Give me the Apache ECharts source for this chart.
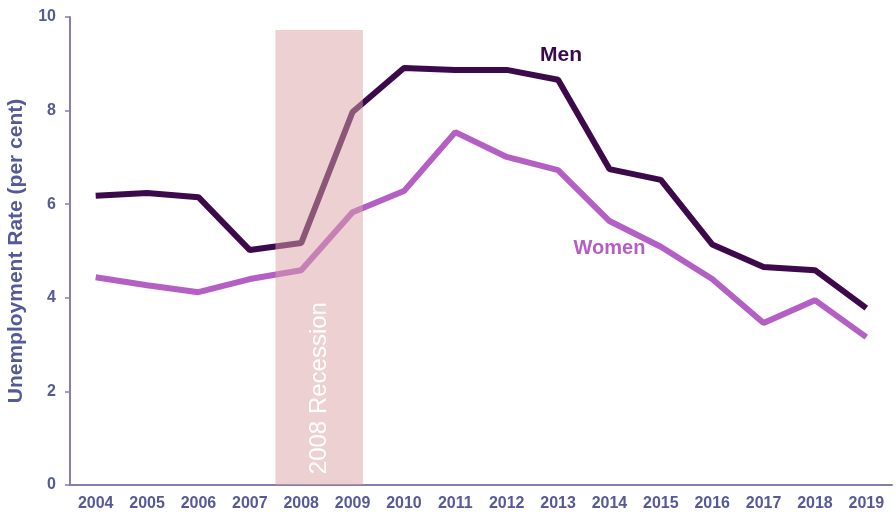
<!DOCTYPE html>
<html>
<head>
<meta charset="utf-8">
<script src="https://cdn.jsdelivr.net/npm/echarts@6/dist/echarts.min.js"></script>
<style>
  html, body { margin: 0; padding: 0; background: #fff; }
  #chart { width: 896px; height: 514px; }
</style>
</head>
<body>
<div id="chart"></div>
<script>
var years = ['2004', '2005', '2006', '2007', '2008', '2009', '2010', '2011',
             '2012', '2013', '2014', '2015', '2016', '2017', '2018', '2019'];
var men = [6.18, 6.24, 6.15, 5.02, 5.17, 7.97, 8.91, 8.87,
           8.87, 8.66, 6.75, 6.52, 5.14, 4.66, 4.59, 3.78];
var women = [4.44, 4.27, 4.12, 4.40, 4.59, 5.83, 6.28, 7.54,
             7.01, 6.73, 5.64, 5.09, 4.40, 3.46, 3.95, 3.16];
// recession band: [start, end, top] in category-index units
var recession = [[3.5, 5.2, 9.72]];

var axisColor = '#8a7cab';
var labelColor = '#55599a';

var chart = echarts.init(document.getElementById('chart'));

var option = {
    animation: false,
    grid: { left: 70, right: 4, top: 17, bottom: 29, containLabel: false, outerBoundsMode: 'none' },
    xAxis: [{
        type: 'category',
        data: years,
        boundaryGap: true,
        axisLine: { onZero: false, lineStyle: { color: axisColor, width: 2 } },
        axisTick: { lineStyle: { color: axisColor, width: 1.5 }, length: 5 },
        axisLabel: { color: labelColor, fontWeight: 'bold', fontSize: 16, margin: 11, fontFamily: 'Liberation Sans' }
    }, {
        type: 'value',
        min: -0.5,
        max: 15.5,
        show: false
    }],
    yAxis: {
        type: 'value',
        min: 0,
        max: 10,
        interval: 2,
        name: 'Unemployment Rate (per cent)',
        nameLocation: 'middle',
        nameGap: 43,
        nameTextStyle: { color: labelColor, fontWeight: 'bold', fontSize: 21, fontFamily: 'Liberation Sans' },
        splitLine: { show: false },
        axisLine: { show: true, onZero: false, lineStyle: { color: axisColor, width: 2 } },
        axisTick: { show: true, length: 5, lineStyle: { color: axisColor, width: 1.5 } },
        axisLabel: { color: labelColor, fontWeight: 'bold', fontSize: 16, margin: 14, fontFamily: 'Liberation Sans' }
    },
    series: [{
        name: 'Men',
        type: 'line',
        data: men,
        symbol: 'none',
        lineStyle: { color: '#3c0a4b', width: 6 },
        markPoint: {
            symbol: 'circle',
            symbolSize: 0,
            data: [{ coord: ['2013', 9.19] }],
            label: { show: true, position: 'inside', offset: [3, 0], formatter: 'Men', color: '#3c0a4b', fontWeight: 'bold', fontSize: 21, fontFamily: 'Liberation Sans' }
        }
    }, {
        name: 'Women',
        type: 'line',
        data: women,
        symbol: 'none',
        lineStyle: { color: '#b45fc4', width: 6 },
        markPoint: {
            symbol: 'circle',
            symbolSize: 0,
            data: [{ coord: ['2014', 5.06] }],
            label: { show: true, position: 'inside', formatter: 'Women', color: '#b45fc4', fontWeight: 'bold', fontSize: 20, fontFamily: 'Liberation Sans' }
        }
    }, {
        type: 'custom',
        xAxisIndex: 1,
        z: 5,
        silent: true,
        data: recession,
        renderItem: function (params, api) {
            var p0 = api.coord([api.value(0), api.value(2)]);
            var p1 = api.coord([api.value(1), 0]);
            var mid = api.coord([(api.value(0) + api.value(1)) / 2, 2.07]);
            return {
                type: 'group',
                children: [{
                    type: 'rect',
                    shape: { x: p0[0], y: p0[1], width: p1[0] - p0[0], height: p1[1] - p0[1] },
                    style: { fill: 'rgba(217,161,165,0.5)' }
                }, {
                    type: 'text',
                    x: mid[0],
                    y: mid[1],
                    rotation: Math.PI / 2,
                    style: {
                        text: '2008 Recession',
                        fill: '#ffffff',
                        fontSize: 24,
                        fontFamily: 'Liberation Sans',
                        align: 'center',
                        verticalAlign: 'middle'
                    }
                }]
            };
        }
    }]
};

chart.setOption(option);
</script>
</body>
</html>
